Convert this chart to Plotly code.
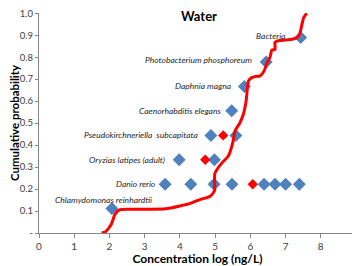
import plotly.graph_objects as go

# Species data points (concentration log ng/L, cumulative probability)
species = ["Chlamydomonas reinhardtii", "Danio rerio", "Oryzias latipes (adult)",
           "Pseudokirchneriella  subcapitata", "Caenorhabditis elegans",
           "Daphnia magna", "Photobacterium phosphoreum", "Bacteria"]
species_y = [0.111, 0.222, 0.333, 0.444, 0.556, 0.667, 0.778, 0.889]

blue_x = [2.07,
          3.58, 4.31, 4.97, 5.48, 6.39, 6.70, 7.00, 7.39,
          3.98, 4.98,
          4.88, 5.59,
          5.47,
          5.83,
          6.45,
          7.43]
blue_y = [0.111,
          0.222, 0.222, 0.222, 0.222, 0.222, 0.222, 0.222, 0.222,
          0.333, 0.333,
          0.444, 0.444,
          0.556,
          0.667,
          0.778,
          0.889]

red_x = [6.07, 4.72, 5.23]
red_y = [0.222, 0.333, 0.444]

# Cumulative distribution curve
curve_x = [1.78, 1.88, 1.97, 2.06, 2.16, 2.3, 2.6, 3.15, 3.6, 4.0, 4.3, 4.57, 4.75, 4.86,
           4.95, 4.99, 4.99, 5.09, 5.2, 5.38, 5.5, 5.57, 5.7, 5.8, 5.88, 5.95, 6.04, 6.15,
           6.28, 6.4, 6.47, 6.56, 6.61, 6.7, 6.7, 6.8, 7.0, 7.22, 7.32, 7.4, 7.51, 7.6]
curve_y = [0, 0.005, 0.02, 0.042, 0.086, 0.106, 0.108, 0.108, 0.11, 0.123, 0.135, 0.152,
           0.16, 0.167, 0.183, 0.196, 0.269, 0.298, 0.32, 0.351, 0.41, 0.466, 0.5, 0.539,
           0.6, 0.693, 0.707, 0.712, 0.715, 0.74, 0.773, 0.80, 0.832, 0.835, 0.868, 0.875,
           0.878, 0.883, 0.888, 0.905, 0.978, 1.0]

# Label anchor x (right end of label text) in data units
label_x = [3.27, 3.38, 3.63, 4.58, 5.22, 5.51, 6.11, 7.04]
label_y = [0.148, 0.225, 0.332, 0.444, 0.555, 0.668, 0.785, 0.897]

x_ticks = [0, 1, 2, 3, 4, 5, 6, 7, 8, 9]
y_ticks = [0, 0.1, 0.2, 0.3, 0.4, 0.5, 0.6, 0.7, 0.8, 0.9, 1.0]
y_ticktext = ["-", "0.1", "0.2", "0.3", "0.4", "0.5", "0.6", "0.7", "0.8", "0.9", "1.0"]

fig = go.Figure()
fig.add_trace(go.Scatter(x=blue_x, y=blue_y, mode="markers",
                         marker=dict(symbol="diamond", size=10, color="#4F81BD"),
                         showlegend=False, hoverinfo="skip"))
fig.add_trace(go.Scatter(x=red_x, y=red_y, mode="markers",
                         marker=dict(symbol="diamond", size=8, color="#FF0000"),
                         showlegend=False, hoverinfo="skip"))
fig.add_trace(go.Scatter(x=curve_x, y=curve_y, mode="lines",
                         line=dict(color="#FF0000", width=3, shape="spline", smoothing=0.6),
                         showlegend=False, hoverinfo="skip", cliponaxis=False))

for name, lx, ly in zip(species, label_x, label_y):
    fig.add_annotation(x=lx, y=ly, text="<i>" + name + "</i>", showarrow=False,
                       xanchor="right", yanchor="middle",
                       font=dict(family="Lato", size=8.5, color="#262626"))

fig.add_annotation(x=4.55, y=1.0, yshift=-3, text="<b>Water</b>", showarrow=False,
                   xanchor="center", yanchor="middle",
                   font=dict(family="Lato", size=13, color="#000000"))

# page has an 8px body margin, so the figure is sized to fit the window
fig.update_layout(
    template="none",
    width=352, height=258,
    margin=dict(l=31, r=4, t=5, b=33, autoexpand=False),
    paper_bgcolor="white", plot_bgcolor="white",
    font=dict(family="Lato", color="#404040"),
)
fig.update_xaxes(range=[0, 9.0], tickvals=x_ticks, showgrid=False, zeroline=False,
                 automargin=False, ticklabeloverflow="allow",
                 showline=True, linecolor="#868686", linewidth=1,
                 ticks="outside", tickcolor="#868686", ticklen=4,
                 tickfont=dict(size=10, color="#404040"),
                 title=dict(text="<b>Concentration log (ng/L)</b>",
                            font=dict(size=12, color="#000000"), standoff=3))
fig.update_yaxes(range=[0, 1.001], tickvals=y_ticks, ticktext=y_ticktext, showgrid=False,
                 automargin=False, ticklabeloverflow="allow",
                 zeroline=False, showline=True, linecolor="#868686", linewidth=1,
                 ticks="outside", tickcolor="#868686", ticklen=3,
                 tickfont=dict(size=9.5, color="#404040"),
                 title=dict(text="<b>Cumulative probability</b>",
                            font=dict(size=11.5, color="#000000"), standoff=2))

fig.write_html("out.html")
